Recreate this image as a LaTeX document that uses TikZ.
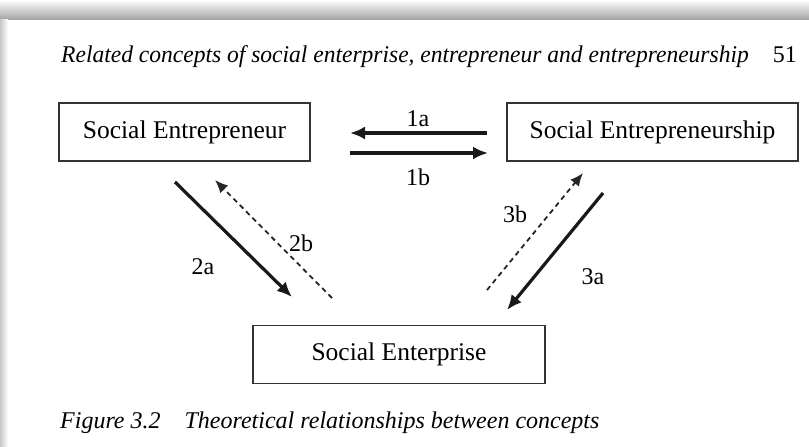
\documentclass[tikz,border=0pt]{standalone}
\usepackage{fontspec}
\setmainfont{Liberation Serif}
\usepackage{xcolor}
\usetikzlibrary{arrows,arrows.meta}
\tikzset{conceptbox/.style={draw=black!80,line width=1.3pt,minimum width=251pt,minimum height=58pt,inner sep=0pt,font=\fontsize{25.5}{30}\selectfont}}
\tikzset{numlabel/.style={font=\fontsize{24}{28}\selectfont}}
\tikzset{solidarrow/.style={-{Latex[length=15pt,width=13pt]},line width=3.2pt,color=black!90}}
\tikzset{dashedarrow/.style={-{Latex[length=13pt,width=11pt]},line width=1.8pt,dash pattern=on 5pt off 4pt,color=black!85}}

\begin{document}
\begin{tikzpicture}[x=1pt,y=-1pt]
\useasboundingbox (0,0) rectangle (809,447);
\fill[white] (0,0) rectangle (809,447);
\shade[top color=white,bottom color=black!35] (0,0) rectangle (809,19);
\shade[left color=black!22,right color=white] (0,19) rectangle (8,447);
% page header
\node[anchor=base west,inner sep=0pt,font=\fontsize{24}{28}\selectfont\itshape] (header) at (61,62) {\scalebox{0.98}[1]{Related concepts of social enterprise, entrepreneur and entrepreneurship}};
\node[anchor=base east,inner sep=0pt,font=\fontsize{24}{28}\selectfont] (pagenum) at (797,62) {51};
% concepts
\node[conceptbox] (entrepreneur) at (184.5,132) {Social Entrepreneur};
\node[conceptbox,minimum width=291pt] (entrepreneurship) at (652.5,132) {Social Entrepreneurship};
\node[conceptbox,minimum width=292pt] (enterprise) at (399,354.5) {Social Enterprise};
% arrow ends
\coordinate (a1s) at (487,133);
\coordinate (a1e) at (350,133);
\coordinate (b1s) at (350,153);
\coordinate (b1e) at (488,153);
\coordinate (a2s) at (175,182);
\coordinate (a2e) at (292,297);
\coordinate (b2s) at (332,298);
\coordinate (b2e) at (215,180);
\coordinate (a3s) at (603,193);
\coordinate (a3e) at (507,310);
\coordinate (b3s) at (487,290);
\coordinate (b3e) at (583,173);
\draw[solidarrow] (a1s)--(a1e);
\draw[solidarrow] (b1s)--(b1e);
\draw[solidarrow] (a2s)--(a2e);
\draw[dashedarrow] (b2s)--(b2e);
\draw[solidarrow] (a3s)--(a3e);
\draw[dashedarrow] (b3s)--(b3e);
\node[numlabel] (l1a) at (418,119) {1a};
\node[numlabel] (l1b) at (418,177) {1b};
\node[numlabel] (l2a) at (203,267) {2a};
\node[numlabel] (l2b) at (301,243) {2b};
\node[numlabel] (l3a) at (593,277) {3a};
\node[numlabel] (l3b) at (515,214) {3b};
% caption
\node[anchor=base west,inner sep=0pt,font=\fontsize{24}{28}\selectfont\itshape] (caption) at (60,428) {Figure 3.2\quad Theoretical relationships between concepts};
\end{tikzpicture}
\end{document}
